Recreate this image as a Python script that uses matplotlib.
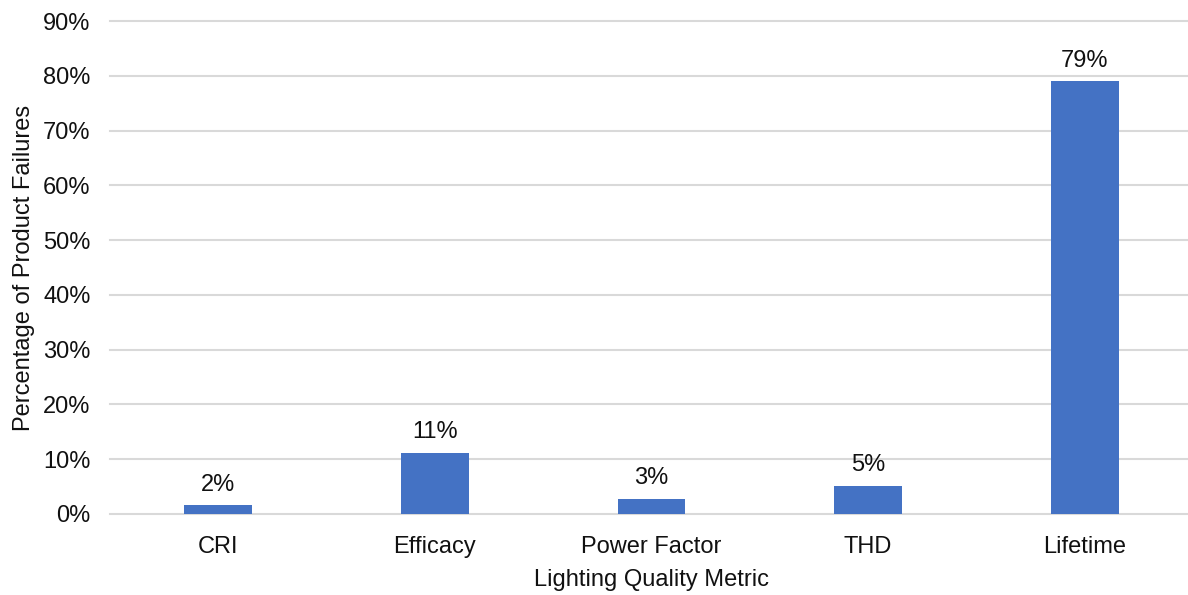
import numpy as np
import matplotlib.pyplot as plt
plt.rcParams.update({'font.size': 17, 'font.family': ['Liberation Sans', 'DejaVu Sans']})

# data (percent of product failures)
metrics = ['CRI', 'Efficacy', 'Power Factor', 'THD', 'Lifetime']
failures = [1.6, 11.1, 2.8, 5.2, 79.0]
yticks = [0, 10, 20, 30, 40, 50, 60, 70, 80, 90]


def main():
	fig = plt.figure(figsize=(11.88, 5.95), dpi=100)
	ax = fig.add_axes([110/1188, 1 - 514/595, 1083/1188, 493/595])

	x = np.arange(len(metrics))
	bars = ax.bar(x, failures, width=0.313, color='#4472C4', zorder=3)

	# value labels above the bars
	for b, v in zip(bars, failures):
		ax.annotate(f'{round(v)}%', (b.get_x() + b.get_width()/2, b.get_height()),
					xytext=(0, 7), textcoords='offset points',
					ha='center', va='bottom', color='#111111')

	ax.set_xlim(-0.5, len(metrics) - 0.5)
	ax.set_ylim(0, 90)
	ax.set_yticks(yticks)
	ax.set_yticklabels([f'{t}%' for t in yticks])
	ax.set_xticks(x)
	ax.set_xticklabels(metrics)
	ax.tick_params(length=0, colors='#111111')
	ax.tick_params(axis='y', pad=14)
	ax.tick_params(axis='x', pad=16)

	ax.grid(axis='y', color='#d9d9d9', linewidth=1.5, zorder=0)
	for gl in ax.yaxis.get_gridlines():
		gl.set_clip_on(False)
	for s in ax.spines.values():
		s.set_visible(False)

	ax.set_xlabel('Lighting Quality Metric', color='#111111', labelpad=8)
	ax.set_ylabel('Percentage of Product Failures', color='#111111', labelpad=6)

	fig.savefig('out.png')


if __name__ == '__main__':
	main()
